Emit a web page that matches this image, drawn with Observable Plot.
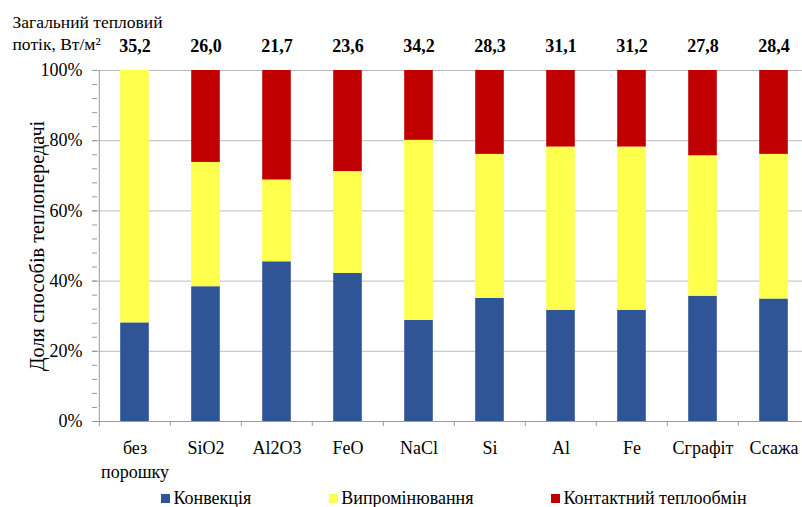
<!DOCTYPE html>
<html><head><meta charset="utf-8">
<script src="https://cdn.jsdelivr.net/npm/d3@7"></script>
<script src="https://cdn.jsdelivr.net/npm/@observablehq/plot@0.6"></script>
<style>
body{margin:0;background:#fff}
#wrap{position:relative;width:802px;height:507px;overflow:hidden;background:#fff}
#wrap svg{position:absolute;left:0;top:0}
#legend{position:absolute;left:97px;width:714px;top:489px;display:flex;justify-content:center;gap:78px;font-family:'Liberation Serif','Times New Roman',serif;font-size:18px;line-height:18px;color:#000}
.item{display:flex;align-items:center;white-space:nowrap}
.sw{width:9px;height:9px;margin-right:3px;display:inline-block}
</style></head><body><div id="wrap"></div>
<script>
const categories = ["без порошку", "SiO2", "Al2O3", "FeO", "NaCl", "Si", "Al", "Fe", "Сграфіт", "Ссажа"];
const tickLabels = ["без\nпорошку", "SiO2", "Al2O3", "FeO", "NaCl", "Si", "Al", "Fe", "Сграфіт", "Ссажа"];
const totals = ["35,2", "26,0", "21,7", "23,6", "34,2", "28,3", "31,1", "31,2", "27,8", "28,4"];
const convection = [28.1, 38.4, 45.5, 42.2, 28.8, 35.1, 31.7, 31.7, 35.7, 34.9];
const radiation  = [71.9, 35.4, 23.3, 29.0, 51.3, 41.0, 46.5, 46.5, 40.0, 41.2];
const contact    = [0.0, 26.2, 31.2, 28.8, 19.9, 23.9, 21.8, 21.8, 24.3, 23.9];
const seriesNames = ["Конвекція", "Випромінювання", "Контактний теплообмін"];
const seriesColors = ["#2F5597", "#FFFF4D", "#C00000"];
const yTicks = [0, 20, 40, 60, 80, 100];
const yMinorTicks = [0, 4, 8, 12, 16, 20, 24, 28, 32, 36, 40, 44, 48, 52, 56, 60, 64, 68, 72, 76, 80, 84, 88, 92, 96, 100];
const fluxLabel = "Загальний тепловий\nпотік, Вт/м²";
const yLabel = "Доля способів теплопередачі";

const seriesValues = [convection, radiation, contact];
const data = categories.flatMap((c, i) => seriesNames.map((s, k) => ({cat: c, series: s, value: seriesValues[k][i]})));

const FONT = "'Liberation Serif', 'Times New Roman', serif";
const W = 802, H = 507, left = 97, right = 811;
const step = (right - left) / categories.length;
const barW = 29;
const inset = (step - barW) / 2;
const axisGray = "#9a9a9a";

const plot = Plot.plot({
  width: W, height: H,
  marginTop: 70, marginBottom: 86, marginLeft: left, marginRight: 0,
  style: {fontFamily: FONT, fontSize: "18px", color: "#000", background: "transparent"},
  x: {domain: categories, range: [left, right], padding: 0},
  y: {domain: [0, 100]},
  color: {domain: seriesNames, range: seriesColors},
  marks: [
    Plot.gridY(yTicks, {stroke: "#bcbcbc", strokeOpacity: 1}),
    Plot.barY(data, {x: "cat", y: "value", fill: "series", order: seriesNames, insetLeft: inset, insetRight: inset}),
    Plot.ruleY([0], {stroke: axisGray}),
    Plot.ruleX([categories[0]], {dx: -step / 2, stroke: axisGray}),
    Plot.axisY({ticks: yMinorTicks, tickSize: 5, text: null, stroke: axisGray, label: null}),
    Plot.axisY({ticks: yTicks, tickSize: 5, tickPadding: 10, tickFormat: d => d + "%", stroke: axisGray, fill: "#000", label: null, fontFamily: FONT}),
    Plot.axisX({tickSize: 5, text: null, dx: -step / 2, stroke: axisGray, label: null}),
    Plot.axisX({tickSize: 0, tickPadding: 16, tickFormat: d => tickLabels[categories.indexOf(d)], fill: "#000", label: null, lineHeight: 1.3, fontFamily: FONT}),
    Plot.text(categories, {x: d => d, text: (d, i) => totals[i], frameAnchor: "top", dy: -31, fontWeight: "bold", fontSize: 18, fill: "#000", fontFamily: FONT}),
    Plot.text([fluxLabel], {frameAnchor: "top-left", textAnchor: "start", lineAnchor: "top", dx: -85, dy: -59, fontSize: 17.5, lineHeight: 1.29, fill: "#000", fontFamily: FONT}),
    Plot.text([yLabel], {frameAnchor: "left", textAnchor: "middle", rotate: -90, dx: -60, fontSize: 20.3, fill: "#000", fontFamily: FONT})
  ]
});

const wrap = document.getElementById("wrap");
wrap.appendChild(plot);
const legend = document.createElement("div");
legend.id = "legend";
seriesNames.forEach((s, k) => {
  const it = document.createElement("div");
  it.className = "item";
  const sw = document.createElement("span");
  sw.className = "sw";
  sw.style.background = seriesColors[k];
  it.appendChild(sw);
  const t = document.createElement("span");
  t.textContent = s;
  it.appendChild(t);
  legend.appendChild(it);
});
wrap.appendChild(legend);
</script>
</body></html>
